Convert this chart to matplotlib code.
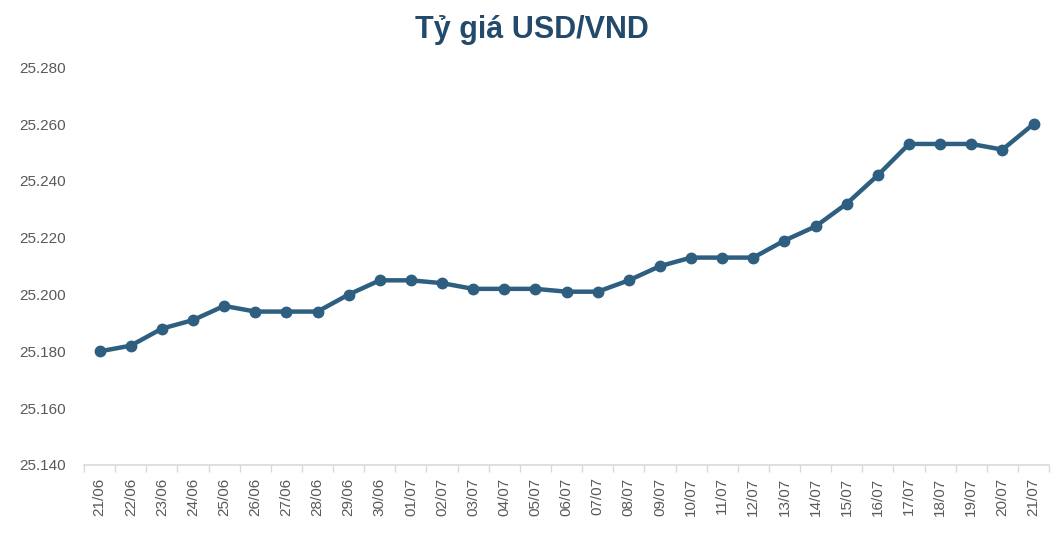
#!/usr/bin/env python3

import matplotlib.pyplot as plt
from matplotlib.ticker import FuncFormatter, MultipleLocator
import numpy as np

dates = ["21/06", "22/06", "23/06", "24/06", "25/06", "26/06", "27/06", "28/06",
         "29/06", "30/06", "01/07", "02/07", "03/07", "04/07", "05/07", "06/07",
         "07/07", "08/07", "09/07", "10/07", "11/07", "12/07", "13/07", "14/07",
         "15/07", "16/07", "17/07", "18/07", "19/07", "20/07", "21/07"]
rate = [25180, 25182, 25188, 25191, 25196, 25194, 25194, 25194,
        25200, 25205, 25205, 25204, 25202, 25202, 25202, 25201,
        25201, 25205, 25210, 25213, 25213, 25213, 25219, 25224,
        25232, 25242, 25253, 25253, 25253, 25251, 25260]

line_col = "#2E5F80"
text_col = "#595959"

plt.rcParams["font.family"] = ["Liberation Sans", "DejaVu Sans"]

fig = plt.figure(figsize=(10.64, 5.38), dpi=100)
ax = fig.add_axes([0.079, 0.1357, 0.907, 0.7393])

x = np.arange(len(dates))
ax.plot(x, rate, color=line_col, lw=3.2, marker="o", ms=7.5,
        solid_capstyle="round", solid_joinstyle="round")

ax.set_xlim(-0.5, len(dates) - 0.5)
ax.set_ylim(25140, 25280)
ax.yaxis.set_major_locator(MultipleLocator(20))
ax.yaxis.set_major_formatter(FuncFormatter(lambda v, p: f"{v:,.0f}".replace(",", ".")))

ax.set_xticks(x)
ax.set_xticklabels(dates, rotation=90)
ax.set_xticks(np.arange(-0.5, len(dates), 1), minor=True)
ax.tick_params(axis="x", which="major", length=0, pad=9, labelsize=11, labelcolor=text_col)
ax.tick_params(axis="x", which="minor", length=5, width=1, color="#D9D9D9")
ax.tick_params(axis="y", length=0, pad=13, labelsize=11, labelcolor=text_col)

for s in ["top", "right", "left"]:
    ax.spines[s].set_visible(False)
ax.spines["bottom"].set_color("#D9D9D9")
ax.spines["bottom"].set_linewidth(1.2)

fig.text(0.5, 0.945, "Tỷ giá USD/VND", ha="center", va="center", fontsize=22,
         fontweight="bold", color="#234A6B")

fig.savefig("out.png", dpi=100)
